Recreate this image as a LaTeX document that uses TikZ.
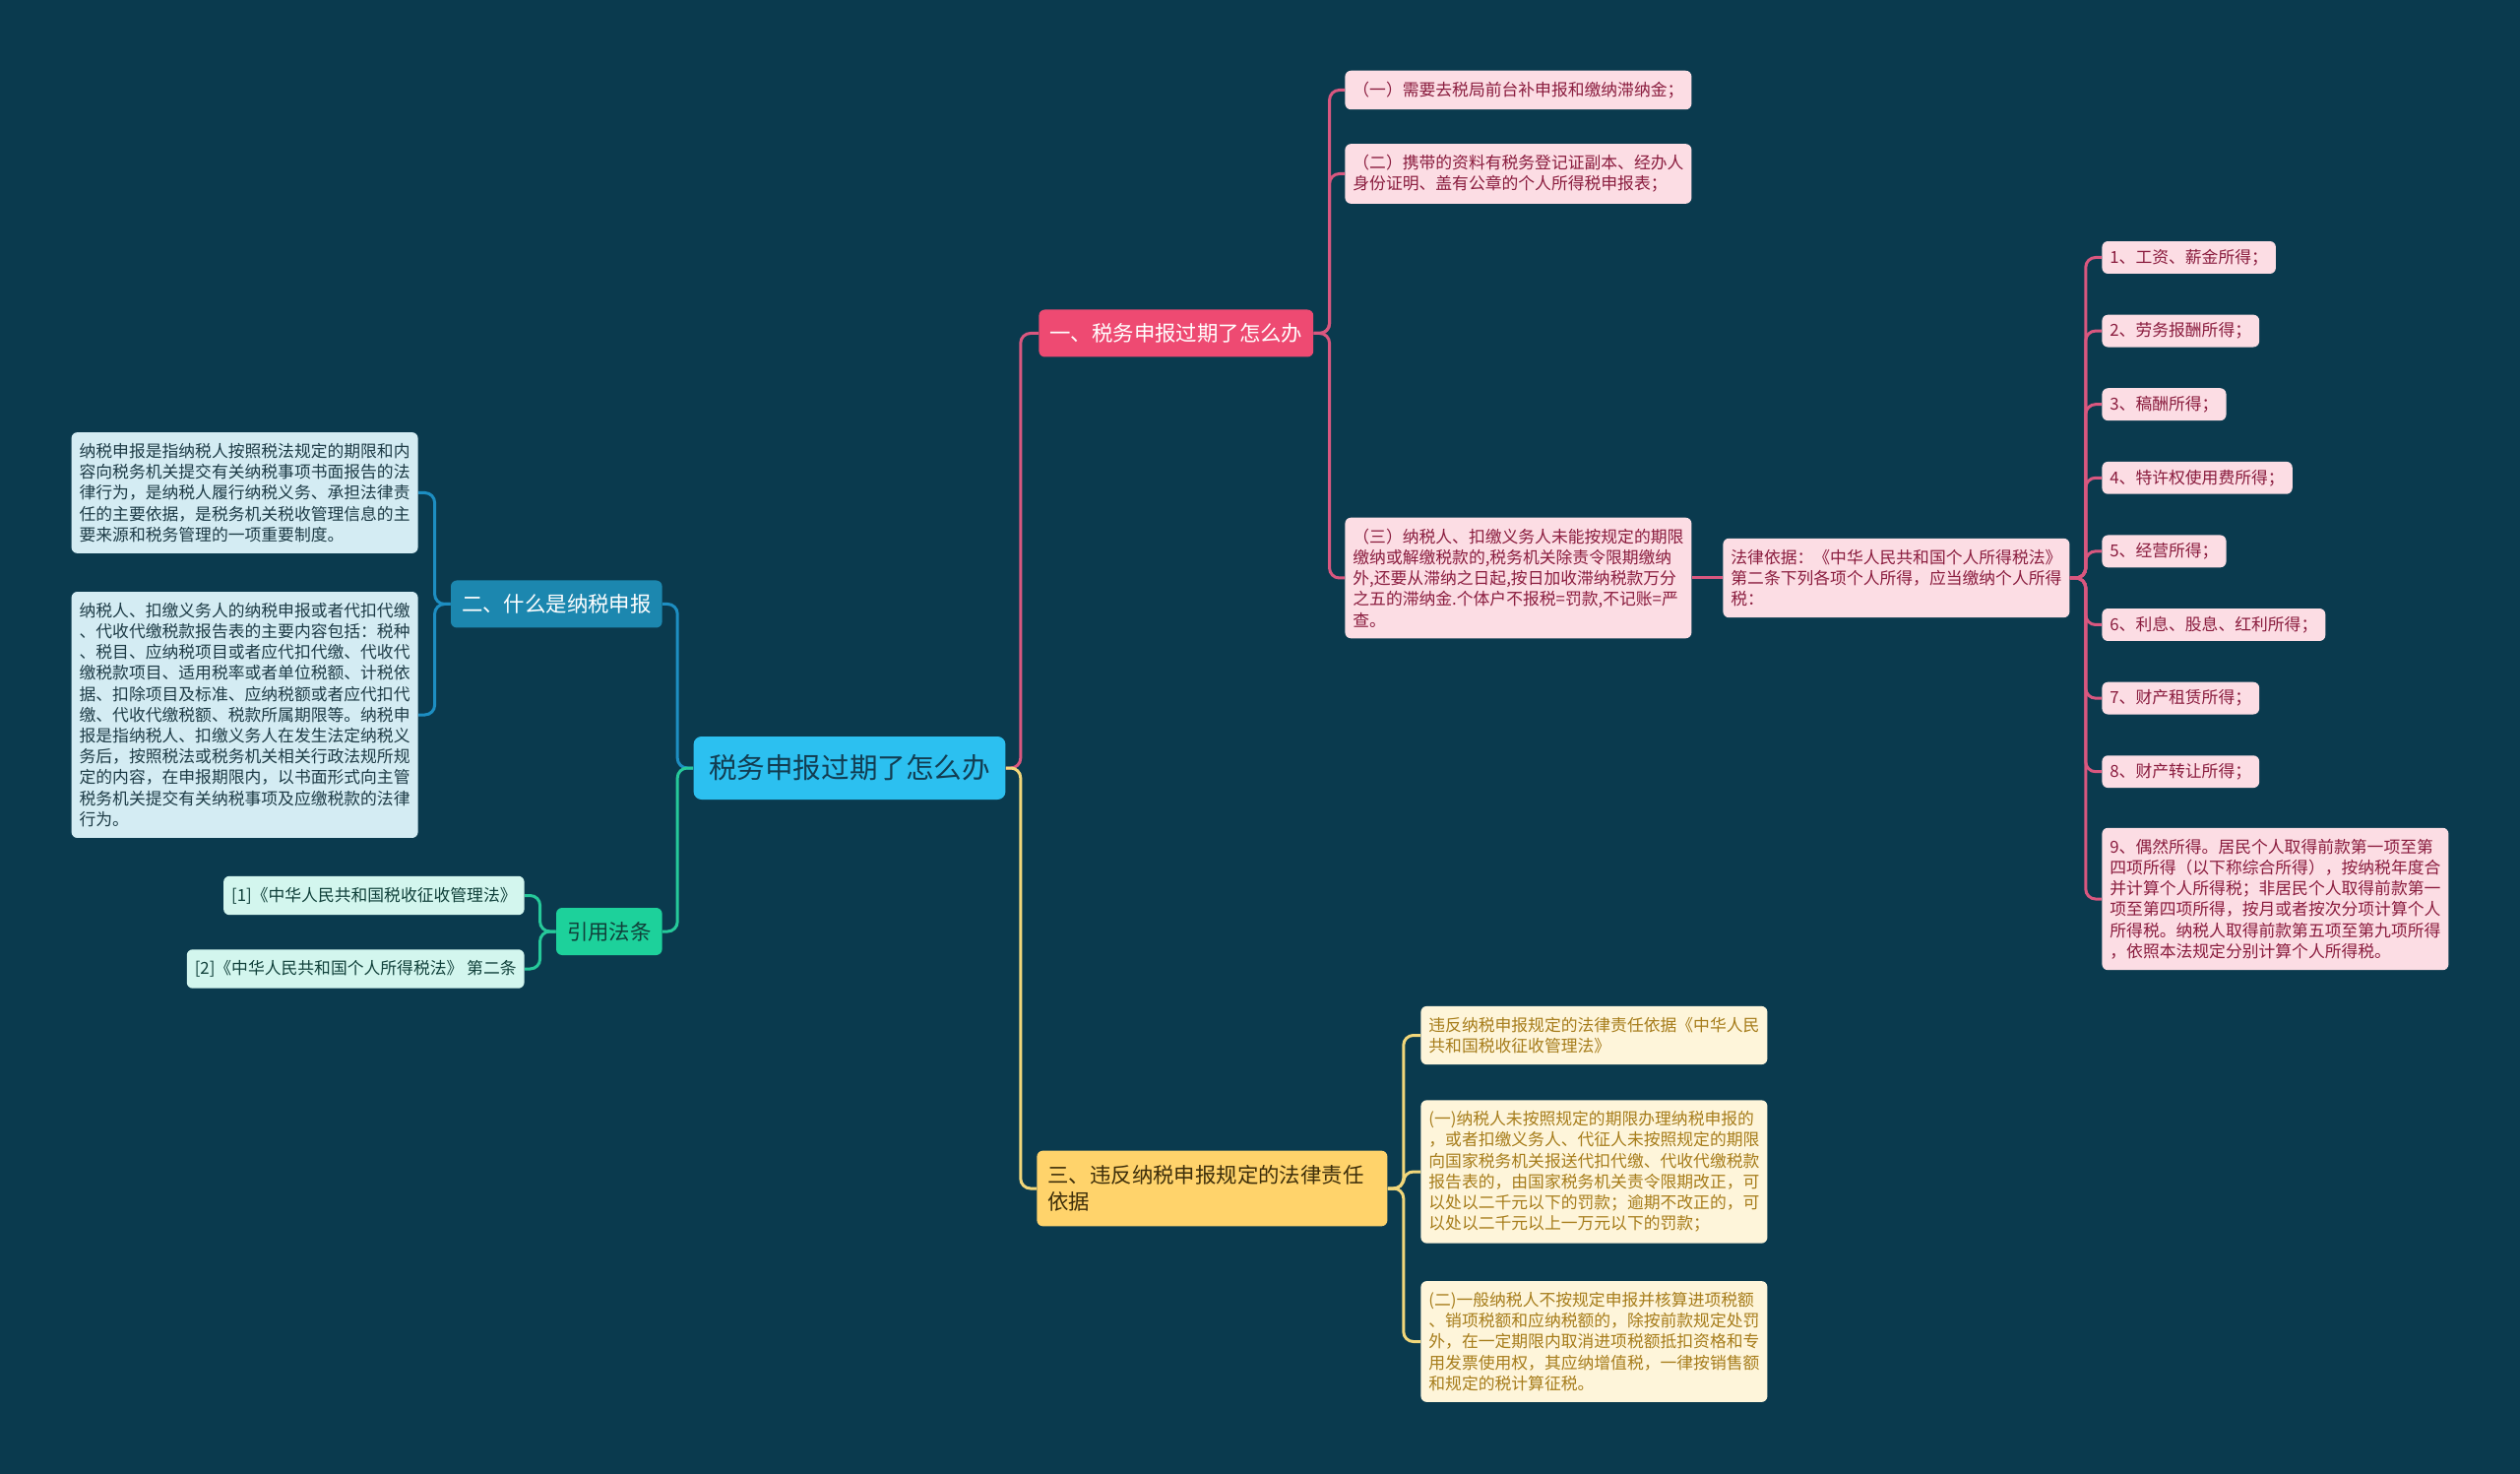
\documentclass[tikz,border=0pt]{standalone}
\usepackage{fontspec}
\setmainfont{Noto Sans CJK SC}
\usetikzlibrary{positioning}
\definecolor{MapBg}{HTML}{0A3A4E}
\definecolor{RootFill}{HTML}{2CC0F0}
\definecolor{RootText}{HTML}{123D52}
\definecolor{RoseFill}{HTML}{EE4A72}
\definecolor{RoseLine}{HTML}{D9577F}
\definecolor{RoseLeaf}{HTML}{FCDDE4}
\definecolor{RoseText}{HTML}{8A1C3E}
\definecolor{GoldFill}{HTML}{FFD36B}
\definecolor{GoldLine}{HTML}{F2D77A}
\definecolor{GoldLeaf}{HTML}{FEF5DA}
\definecolor{GoldText}{HTML}{A67C1A}
\definecolor{GoldDark}{HTML}{3D2E0A}
\definecolor{SeaFill}{HTML}{1C87AF}
\definecolor{SeaLine}{HTML}{1D8EC2}
\definecolor{SeaLeaf}{HTML}{D4ECF3}
\definecolor{SeaText}{HTML}{1D3B46}
\definecolor{MintFill}{HTML}{1DD19B}
\definecolor{MintLine}{HTML}{26C99A}
\definecolor{MintLeaf}{HTML}{D3F6EE}
\definecolor{MintText}{HTML}{10403A}

\begin{document}
\begin{tikzpicture}[x=0.5pt,y=-0.5pt,
  leafbox/.style={rounded corners=3pt,align=left,inner xsep=4pt,inner ysep=5.6pt,
    font=\fontsize{8.4pt}{10.6pt}\selectfont},
  itembox/.style={leafbox,fill=RoseLeaf,text=RoseText,inner ysep=4pt},
  branchbox/.style={rounded corners=3pt,align=left,inner xsep=5.5pt,minimum height=24pt,
    font=\fontsize{10.7pt}{13.4pt}\selectfont},
  link/.style={line width=1.5pt,rounded corners=5pt}]
  \fill[MapBg] (0,0) rectangle (2560,1497);
  \useasboundingbox (0,0) rectangle (2560,1497);

  % centre and main branches
  \node[rounded corners=4pt,fill=RootFill,text=RootText,inner xsep=7.7pt,minimum height=32pt,
    font=\fontsize{14.3pt}{17pt}\selectfont] (root) at (863,780) {税务申报过期了怎么办};
  \node[branchbox,fill=RoseFill,text=white,anchor=west] (late) at (1055,338.5) {一、税务申报过期了怎么办};
  \node[branchbox,fill=GoldFill,text=GoldDark,anchor=west,text width=167pt,inner ysep=7.5pt] (duty) at (1053,1207)
    {三、违反纳税申报规定的法律责任\\依据};
  \node[branchbox,fill=SeaFill,text=white,anchor=east] (what) at (673,613.5) {二、什么是纳税申报};
  \node[branchbox,fill=MintFill,text=MintText,anchor=east] (cite) at (673,946) {引用法条};

  % branch one
  \node[leafbox,fill=RoseLeaf,text=RoseText,anchor=west] (lateA) at (1366,91.5) {（一）需要去税局前台补申报和缴纳滞纳金；};
  \node[leafbox,fill=RoseLeaf,text=RoseText,anchor=west] (lateB) at (1366,176.5)
    {（二）携带的资料有税务登记证副本、经办人\\身份证明、盖有公章的个人所得税申报表；};
  \node[leafbox,fill=RoseLeaf,text=RoseText,anchor=west] (lateC) at (1366,587)
    {（三）纳税人、扣缴义务人未能按规定的期限\\缴纳或解缴税款的,税务机关除责令限期缴纳\\外,还要从滞纳之日起,按日加收滞纳税款万分\\之五的滞纳金.个体户不报税=罚款,不记账=严\\查。};
  \node[leafbox,fill=RoseLeaf,text=RoseText,anchor=west] (basis) at (1750,587)
    {法律依据：《中华人民共和国个人所得税法》\\第二条下列各项个人所得，应当缴纳个人所得\\税：};
  \foreach \i/\txt in {1/工资、薪金所得；,2/劳务报酬所得；,3/稿酬所得；,4/特许权使用费所得；,
      5/经营所得；,6/利息、股息、红利所得；,7/财产租赁所得；,8/财产转让所得；}
    \node[itembox,anchor=west] (item\i) at (2135,186.9+74.6*\i) {\i、\txt};
  \node[leafbox,fill=RoseLeaf,text=RoseText,anchor=west] (item9) at (2135,913)
    {9、偶然所得。居民个人取得前款第一项至第\\四项所得（以下称综合所得），按纳税年度合\\并计算个人所得税；非居民个人取得前款第一\\项至第四项所得，按月或者按次分项计算个人\\所得税。纳税人取得前款第五项至第九项所得\\，依照本法规定分别计算个人所得税。};

  % branch three
  \node[leafbox,fill=GoldLeaf,text=GoldText,anchor=west] (dutyA) at (1443,1051.5)
    {违反纳税申报规定的法律责任依据《中华人民\\共和国税收征收管理法》};
  \node[leafbox,fill=GoldLeaf,text=GoldText,anchor=west] (dutyB) at (1443,1190)
    {(一)纳税人未按照规定的期限办理纳税申报的\\，或者扣缴义务人、代征人未按照规定的期限\\向国家税务机关报送代扣代缴、代收代缴税款\\报告表的，由国家税务机关责令限期改正，可\\以处以二千元以下的罚款；逾期不改正的，可\\以处以二千元以上一万元以下的罚款；};
  \node[leafbox,fill=GoldLeaf,text=GoldText,anchor=west] (dutyC) at (1443,1362.5)
    {(二)一般纳税人不按规定申报并核算进项税额\\、销项税额和应纳税额的，除按前款规定处罚\\外，在一定期限内取消进项税额抵扣资格和专\\用发票使用权，其应纳增值税，一律按销售额\\和规定的税计算征税。};

  % branch two
  \node[leafbox,fill=SeaLeaf,text=SeaText,anchor=east] (whatA) at (425,500.5)
    {纳税申报是指纳税人按照税法规定的期限和内\\容向税务机关提交有关纳税事项书面报告的法\\律行为，是纳税人履行纳税义务、承担法律责\\任的主要依据，是税务机关税收管理信息的主\\要来源和税务管理的一项重要制度。};
  \node[leafbox,fill=SeaLeaf,text=SeaText,anchor=east] (whatB) at (425,726)
    {纳税人、扣缴义务人的纳税申报或者代扣代缴\\、代收代缴税款报告表的主要内容包括：税种\\、税目、应纳税项目或者应代扣代缴、代收代\\缴税款项目、适用税率或者单位税额、计税依\\据、扣除项目及标准、应纳税额或者应代扣代\\缴、代收代缴税额、税款所属期限等。纳税申\\报是指纳税人、扣缴义务人在发生法定纳税义\\务后，按照税法或税务机关相关行政法规所规\\定的内容，在申报期限内，以书面形式向主管\\税务机关提交有关纳税事项及应缴税款的法律\\行为。};

  % cited laws
  \node[leafbox,fill=MintLeaf,text=MintText,anchor=east] (citeA) at (533,909.5) {[1]《中华人民共和国税收征收管理法》};
  \node[leafbox,fill=MintLeaf,text=MintText,anchor=east] (citeB) at (533,984) {[2]《中华人民共和国个人所得税法》 第二条};

  % connectors
  \draw[link,RoseLine] (root.east) -- ++(15,0) |- (late.west);
  \draw[link,GoldLine] (root.east) -- ++(15,0) |- (duty.west);
  \draw[link,SeaLine] (root.west) -- ++(-16,0) |- (what.east);
  \draw[link,MintLine] (root.west) -- ++(-16,0) |- (cite.east);
  \foreach \leaf in {lateA,lateB,lateC}
    \draw[link,RoseLine] (late.east) -- ++(16,0) |- (\leaf.west);
  \draw[link,RoseLine] (lateC.east) -- (basis.west);
  \foreach \i in {1,...,9}
    \draw[link,RoseLine] (basis.east) -- ++(16,0) |- (item\i.west);
  \foreach \leaf in {dutyA,dutyB,dutyC}
    \draw[link,GoldLine] (duty.east) -- ++(16,0) |- (\leaf.west);
  \foreach \leaf in {whatA,whatB}
    \draw[link,SeaLine] (what.west) -- ++(-16,0) |- (\leaf.east);
  \foreach \leaf in {citeA,citeB}
    \draw[link,MintLine] (cite.west) -- ++(-16,0) |- (\leaf.east);
\end{tikzpicture}
\end{document}
